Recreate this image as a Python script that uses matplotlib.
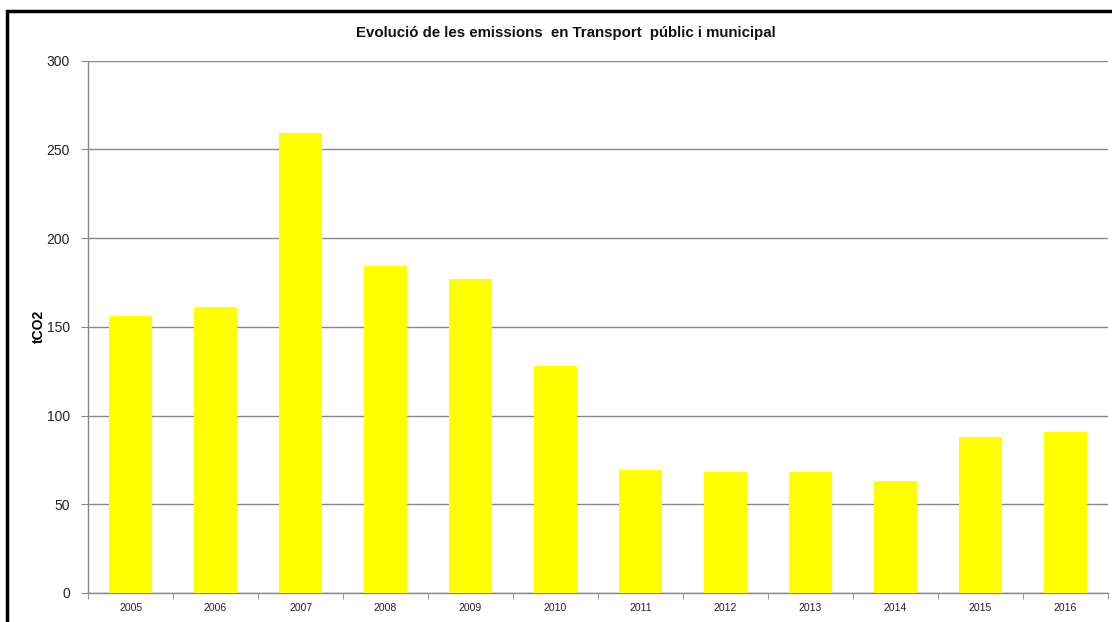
import matplotlib
matplotlib.use("Agg")
import matplotlib.pyplot as plt
from matplotlib.patches import Rectangle
import numpy as np

years = ["2005", "2006", "2007", "2008", "2009", "2010",
         "2011", "2012", "2013", "2014", "2015", "2016"]
emissions = [156, 161, 259.5, 184.5, 177, 128, 69.3, 68, 68.3, 63.2, 87.8, 90.5]
yticks = [0, 50, 100, 150, 200, 250, 300]

plt.rcParams['font.family'] = ['Liberation Sans', 'DejaVu Sans']

W, H = 1112, 622
fig = plt.figure(figsize=(W / 100, H / 100), dpi=100)
fig.patch.set_facecolor("white")

# outer black frame
fig.patches.append(Rectangle((7 / W, -0.05), 1.2, (H - 11) / H + 0.05,
                             transform=fig.transFigure, fill=False,
                             edgecolor="black", linewidth=2.5, zorder=0))

ax = fig.add_axes([88 / W, 29 / H, 1020 / W, (593 - 60.7) / H])
x = np.arange(len(years))
ax.bar(x, emissions, width=0.5, color="#FFFF00", zorder=3)

ax.set_xlim(-0.5, len(years) - 0.5)
ax.set_ylim(0, 300)
ax.set_yticks(yticks)
ax.set_yticklabels([str(v) for v in yticks], fontsize=10, color="#222222")
ax.yaxis.grid(True, color="#888888", linewidth=1, zorder=1)
ax.set_axisbelow(True)

ax.set_xticks(x)
ax.set_xticklabels(years, fontsize=7.5, color="#222222")
ax.tick_params(axis="x", which="major", length=0, pad=7)
ax.set_xticks(np.arange(-0.5, len(years), 1), minor=True)
ax.tick_params(axis="x", which="minor", length=4, color="#888888", direction="out")
ax.tick_params(axis="y", length=5, color="#888888", direction="out", pad=8)

for s in ["top", "right"]:
    ax.spines[s].set_visible(False)
for s in ["left", "bottom"]:
    ax.spines[s].set_color("#888888")
    ax.spines[s].set_linewidth(1)

ax.set_ylabel("tCO2", fontsize=10, fontweight="bold")
ax.yaxis.set_label_coords((46 - 88) / 1020, 0.5)

fig.text(566 / W, 1 - 33 / H, "Evolució de les emissions  en Transport  públic i municipal",
         ha="center", va="center", fontsize=10.8, fontweight="bold", color="#111111")

fig.savefig("out.png", dpi=100)
